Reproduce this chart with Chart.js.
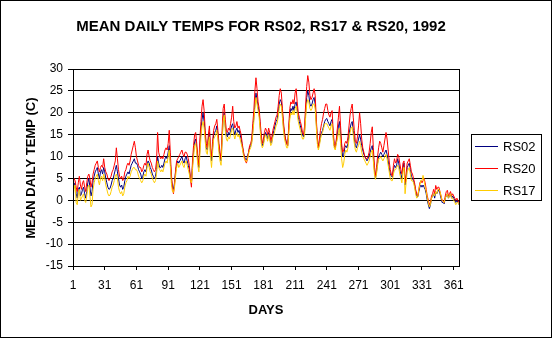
<!DOCTYPE html>
<html>
<head>
<meta charset="utf-8">
<title>Mean daily temps 1992</title>
<script src="https://cdn.jsdelivr.net/npm/chart.js@4.4.0/dist/chart.umd.min.js"></script>
<style>
  html, body { margin: 0; padding: 0; background: #fff; }
  #wrap { width: 552px; height: 338px; }
</style>
</head>
<body>
<div id="wrap"><canvas id="chart" width="552" height="338"></canvas></div>
<script>
const chartTitle = "MEAN DAILY TEMPS FOR RS02, RS17 & RS20, 1992";
const xTitle = "DAYS";
const yTitle = "MEAN DAILY TEMP (C)";
const dayTicks = [1, 31, 61, 91, 121, 151, 181, 211, 241, 271, 301, 331, 361];
const seriesNames = ["RS02", "RS20", "RS17"];

// daily means (day 1 .. 366)
const rs02 = [
  2.0, 3.5, 4.0, 1.5, 0.5, 2.5, 3.0, 1.0, 1.5, 2.5,
  3.0, 1.5, 0.5, 2.0, 4.0, 5.0, 3.0, 1.0, 2.0, 4.5,
  5.5, 6.5, 7.0, 7.5, 6.0, 5.0, 6.5, 7.0, 6.0, 7.5,
  6.5, 5.0, 4.0, 3.0, 2.5, 2.7, 3.5, 4.5, 5.0, 6.0,
  7.0, 8.0, 6.5, 5.0, 3.5, 3.0, 3.5, 2.5, 3.0, 4.5,
  5.5, 6.0, 6.5, 6.0, 7.0, 8.0, 8.5, 9.0, 9.5, 8.5,
  8.5, 8.0, 7.0, 6.5, 6.0, 5.0, 5.5, 6.5, 7.0, 6.5,
  8.0, 9.0, 8.5, 7.5, 7.0, 6.0, 5.5, 5.0, 5.5, 7.0,
  10.0, 8.5, 7.5, 7.5, 8.0, 7.5, 8.5, 9.5, 10.0, 9.5,
  11.0, 12.5, 9.0, 5.0, 3.0, 2.5, 4.0, 6.5, 8.0, 9.0,
  8.5, 9.0, 9.5, 10.0, 9.0, 8.5, 9.5, 10.0, 9.0, 8.0,
  7.0, 5.0, 4.0, 8.0, 11.0, 13.5, 14.0, 12.0, 9.0, 7.5,
  12.0, 16.0, 18.5, 20.0, 18.0, 15.0, 12.0, 11.5, 14.0, 15.5,
  11.0, 9.0, 12.0, 15.0, 15.5, 16.0, 17.0, 15.0, 12.0, 10.0,
  9.0, 14.0, 19.0, 20.0, 17.0, 15.0, 14.5, 15.5, 15.0, 16.0,
  17.0, 17.5, 16.0, 15.0, 16.0, 16.5, 15.5, 16.0, 15.0, 14.0,
  12.5, 11.0, 10.0, 9.5, 9.2, 10.0, 11.0, 12.0, 12.5, 13.5,
  16.0, 19.0, 22.0, 24.5, 23.0, 21.5, 20.0, 17.0, 14.0, 12.5,
  13.0, 14.5, 15.5, 15.0, 14.0, 15.5, 14.5, 13.0, 13.5, 15.0,
  16.0, 17.0, 18.0, 18.5, 20.0, 22.0, 23.0, 22.5, 20.0, 17.0,
  15.0, 14.0, 13.0, 12.5, 16.0, 19.5, 21.0, 20.5, 21.5, 20.5,
  22.0, 22.5, 21.0, 19.0, 18.0, 17.0, 16.0, 15.0, 14.5, 16.0,
  20.0, 23.5, 25.0, 24.0, 22.0, 21.5, 22.0, 23.0, 23.5, 22.0,
  18.0, 14.0, 12.0, 13.0, 14.5, 15.5, 16.0, 17.0, 18.0, 18.5,
  18.7, 18.0, 17.5, 17.0, 18.0, 18.5, 15.0, 12.5, 12.0, 13.5,
  15.0, 17.0, 18.0, 15.0, 12.0, 10.0, 10.5, 12.0, 12.5, 12.0,
  13.0, 15.0, 16.5, 17.5, 18.0, 16.0, 14.0, 12.5, 12.0, 13.0,
  14.0, 15.0, 14.0, 12.5, 11.5, 10.5, 10.0, 9.5, 9.0, 9.5,
  10.0, 11.0, 12.0, 12.5, 10.0, 7.0, 5.0, 6.5, 8.5, 10.0,
  10.5, 11.0, 10.5, 10.0, 10.5, 11.0, 11.5, 10.5, 9.0, 7.5,
  6.0, 5.5, 5.3, 7.0, 8.0, 7.5, 8.0, 9.5, 8.5, 7.0,
  6.0, 5.0, 7.5, 8.5, 3.5, 5.0, 7.5, 8.0, 8.5, 7.0,
  5.5, 5.0, 4.5, 3.5, 2.0, 1.0, 0.8, 2.0, 3.0, 3.5,
  3.0, 3.5, 3.0, 2.5, 1.5, 0.0, -1.0, -1.9, -1.0, 0.5,
  1.0, 1.5, 0.5, 2.0, 1.5, 2.0, 2.5, 1.5, 0.5, -0.5,
  -0.5, -0.8, 0.5, 1.0, 1.5, 0.5, 1.0, 1.5, 0.5, 1.0,
  0.5, 0.0, -0.5, 0.0, -0.5, -1.0
];

const rs20 = [
  3.0, 5.0, 4.5, 3.0, 2.0, 4.0, 5.5, 3.5, 2.5, 4.0,
  4.5, 3.0, 2.0, 4.0, 5.5, 6.0, 5.0, 3.0, 4.0, 6.0,
  7.0, 8.0, 8.5, 9.0, 7.5, 6.5, 7.5, 8.0, 7.5, 9.5,
  7.5, 6.5, 6.0, 5.0, 4.5, 5.0, 5.5, 6.5, 7.0, 8.0,
  9.0, 12.0, 9.5, 7.0, 5.5, 5.0, 5.5, 4.5, 5.0, 6.5,
  7.0, 8.0, 8.5, 8.0, 9.0, 10.5, 11.5, 12.5, 13.5, 12.0,
  10.0, 9.0, 8.0, 7.5, 7.5, 6.5, 7.0, 8.0, 8.5, 8.0,
  10.5, 11.5, 10.0, 9.0, 8.5, 7.5, 7.0, 6.5, 7.0, 9.0,
  15.5, 11.0, 10.0, 9.5, 10.0, 9.5, 10.5, 11.5, 12.0, 11.5,
  13.0, 16.0, 11.0, 6.0, 3.0, 1.5, 3.5, 7.0, 9.0, 9.5,
  10.0, 10.5, 11.0, 11.5, 10.5, 10.0, 11.0, 11.0, 10.5, 9.5,
  8.0, 5.0, 3.0, 9.0, 12.5, 15.0, 15.5, 13.0, 10.0, 8.0,
  14.0, 18.0, 21.5, 23.0, 20.5, 16.0, 13.0, 12.0, 15.0, 17.0,
  12.0, 10.0, 13.5, 16.0, 17.0, 17.5, 18.5, 16.0, 13.0, 11.0,
  9.5, 16.0, 21.0, 22.0, 18.5, 16.0, 15.5, 16.5, 16.0, 17.5,
  19.0, 21.5, 18.0, 16.5, 17.0, 18.0, 16.5, 17.0, 16.0, 15.0,
  13.0, 11.5, 10.0, 9.0, 8.5, 9.5, 11.0, 12.5, 13.0, 14.0,
  17.5, 20.5, 25.0, 28.0, 25.5, 22.5, 21.0, 18.0, 15.0, 13.0,
  14.0, 15.5, 16.5, 16.0, 15.0, 16.5, 15.5, 13.5, 14.5, 16.0,
  17.0, 18.0, 19.0, 19.5, 21.5, 24.0, 25.5, 24.5, 21.0, 18.0,
  15.5, 14.0, 13.0, 12.5, 17.0, 21.0, 22.5, 22.0, 23.0, 22.0,
  24.5, 25.5, 22.5, 20.0, 19.0, 18.0, 17.0, 15.5, 15.0, 17.0,
  22.0, 26.0, 28.5, 27.0, 24.0, 23.0, 23.5, 24.5, 25.5, 24.0,
  19.0, 14.5, 12.0, 14.0, 16.0, 17.5, 18.5, 20.0, 21.0, 22.0,
  22.0, 20.5, 19.5, 19.0, 20.0, 20.5, 16.0, 13.0, 12.0, 14.0,
  16.5, 19.0, 21.5, 17.0, 13.0, 11.0, 11.5, 13.0, 13.5, 13.0,
  14.5, 17.0, 19.5, 21.0, 22.0, 19.0, 16.0, 13.5, 13.0, 14.5,
  17.0, 20.0, 17.5, 14.0, 12.0, 11.0, 10.0, 9.5, 9.5, 10.0,
  11.0, 13.0, 15.5, 16.8, 12.0, 8.0, 5.5, 7.5, 10.0, 12.0,
  13.5, 13.0, 12.0, 11.0, 12.5, 14.0, 15.5, 14.0, 11.5, 9.0,
  7.0, 6.0, 5.5, 8.0, 9.5, 8.5, 9.0, 10.5, 10.0, 8.5,
  7.0, 6.0, 8.5, 9.0, 4.0, 6.0, 8.5, 9.0, 9.5, 8.0,
  6.5, 6.0, 5.0, 4.0, 2.5, 1.5, 1.0, 2.5, 4.0, 4.5,
  4.0, 4.5, 5.0, 4.0, 2.5, 1.0, 0.0, -1.0, -0.5, 1.0,
  1.5, 2.5, 1.5, 3.4, 2.5, 3.0, 3.0, 2.0, 1.0, 0.0,
  0.0, -0.5, 1.0, 2.0, 2.3, 1.0, 1.5, 2.0, 1.0, 1.5,
  1.0, 0.5, 0.0, 0.5, 0.0, -0.5
];

const rs17 = [
  0.5, 2.5, 3.5, -0.5, -1.0, 1.5, 2.5, 0.0, 0.5, 1.0,
  1.5, 0.0, -0.5, 1.0, 3.0, 3.5, 1.0, -1.5, -1.0, 2.5,
  4.0, 5.0, 5.5, 6.0, 4.5, 3.5, 5.0, 5.5, 4.5, 6.0,
  5.0, 3.5, 2.5, 1.5, 1.0, 1.2, 2.0, 3.0, 3.5, 4.5,
  5.5, 6.0, 5.0, 3.0, 2.0, 1.5, 2.0, 1.0, 1.5, 3.0,
  4.0, 4.5, 5.5, 5.0, 5.5, 6.5, 7.0, 7.5, 7.5, 7.0,
  7.0, 6.5, 5.5, 5.0, 4.5, 4.0, 4.5, 5.5, 6.0, 5.5,
  7.5, 8.5, 7.5, 6.5, 6.0, 5.0, 4.5, 4.0, 4.5, 6.0,
  9.0, 7.5, 7.0, 6.5, 7.0, 6.5, 7.5, 8.5, 9.0, 8.5,
  10.0, 11.5, 8.0, 4.0, 2.0, 1.8, 3.0, 5.5, 7.5, 8.5,
  7.5, 8.0, 8.5, 9.0, 8.0, 7.5, 8.5, 9.0, 8.0, 7.0,
  6.0, 4.5, 4.0, 7.0, 10.0, 12.5, 13.0, 11.0, 8.0, 6.5,
  10.5, 14.5, 17.0, 18.0, 16.5, 13.5, 11.0, 10.5, 13.0, 14.5,
  10.0, 7.5, 11.0, 14.0, 14.5, 15.0, 16.0, 14.0, 11.0, 9.0,
  8.0, 13.0, 18.0, 19.5, 16.0, 14.0, 13.5, 14.5, 14.0, 15.0,
  16.0, 16.5, 15.0, 14.0, 15.0, 15.5, 14.5, 15.0, 14.0, 13.0,
  12.0, 10.5, 9.5, 9.0, 8.8, 9.5, 10.5, 11.5, 12.0, 13.0,
  15.0, 18.0, 21.0, 23.5, 22.0, 20.5, 19.0, 16.0, 13.0, 12.0,
  12.5, 14.0, 15.0, 14.5, 13.5, 15.0, 14.0, 12.5, 13.0, 14.5,
  15.0, 16.0, 17.0, 17.5, 19.0, 21.0, 22.0, 21.5, 19.0, 16.0,
  14.0, 13.0, 12.0, 12.0, 15.0, 18.5, 20.0, 19.5, 20.5, 19.5,
  21.0, 21.5, 20.0, 18.0, 17.0, 16.0, 15.0, 14.0, 14.0, 15.0,
  19.0, 22.0, 23.0, 22.5, 21.0, 20.5, 21.0, 22.0, 22.0, 21.0,
  17.0, 13.0, 11.5, 12.5, 14.0, 15.0, 15.5, 16.5, 17.5, 17.5,
  17.5, 17.0, 16.5, 16.0, 17.0, 17.5, 14.0, 12.0, 11.5, 13.0,
  14.0, 15.5, 16.5, 13.0, 9.5, 7.5, 8.5, 10.5, 11.5, 11.0,
  12.0, 14.0, 15.5, 16.5, 16.8, 15.0, 13.0, 11.5, 11.0, 12.0,
  12.5, 13.5, 12.5, 11.0, 10.0, 9.5, 9.0, 8.5, 8.0, 8.5,
  9.0, 10.0, 11.0, 11.5, 9.0, 6.0, 4.8, 6.0, 8.0, 9.5,
  9.5, 10.0, 9.5, 9.0, 9.5, 10.0, 10.5, 9.5, 8.0, 6.5,
  5.0, 4.5, 4.5, 6.0, 7.0, 7.0, 7.5, 8.0, 7.5, 6.0,
  5.0, 4.0, 6.5, 7.5, 1.5, 4.0, 6.5, 7.0, 7.5, 6.0,
  4.5, 4.5, 4.0, 3.0, 1.5, 0.5, 0.8, 2.5, 3.5, 4.5,
  4.5, 5.7, 4.5, 3.0, 2.0, 0.5, -0.5, -1.5, -1.0, 0.5,
  1.0, 1.5, 1.0, 2.0, 1.5, 2.5, 2.5, 2.0, 1.0, 0.0,
  -0.3, -0.5, 0.5, 1.0, 1.5, 0.5, 1.0, 1.5, 0.5, 0.5,
  0.0, -0.5, -1.0, -0.5, -0.5, -1.0
];

const days = rs02.map((v, i) => i + 1);

const colors = ["#000080", "#ff0000", "#ffcc00"];

// titles, outer border, plot frame and legend box drawn by hand
const decor = {
  id: "decor",
  afterDraw(c) {
    const ctx = c.ctx;
    const a = c.chartArea;
    ctx.save();
    ctx.strokeStyle = "#000";
    ctx.lineWidth = 1;
    ctx.strokeRect(0.5, 0.5, 551, 337);
    ctx.strokeRect(Math.round(a.left) + 0.5, Math.round(a.top) + 0.5,
      Math.round(a.right - a.left), Math.round(a.bottom - a.top));

    ctx.fillStyle = "#000";
    ctx.textAlign = "center";
    ctx.textBaseline = "middle";
    ctx.font = "bold 15px Arial, 'Liberation Sans', sans-serif";
    ctx.fillText(chartTitle, 261, 27);

    ctx.font = "bold 13px Arial, 'Liberation Sans', sans-serif";
    ctx.fillText(xTitle, 266, 310);
    ctx.save();
    ctx.translate(31, 168);
    ctx.rotate(-Math.PI / 2);
    ctx.fillText(yTitle, 0, 0);
    ctx.restore();

    // legend
    ctx.strokeRect(471.5, 134.5, 70, 66);
    ctx.font = "13px Arial, 'Liberation Sans', sans-serif";
    ctx.textAlign = "left";
    seriesNames.forEach((name, i) => {
      const y = 146 + i * 22;
      ctx.strokeStyle = colors[i];
      ctx.lineWidth = 1;
      ctx.beginPath();
      ctx.moveTo(475, y + 0.5);
      ctx.lineTo(498, y + 0.5);
      ctx.stroke();
      ctx.fillStyle = "#000";
      ctx.fillText(name, 503, y + 1);
    });
    ctx.restore();
  }
};

const seriesData = [rs02, rs20, rs17];

new Chart(document.getElementById("chart"), {
  type: "line",
  data: {
    labels: days,
    datasets: seriesNames.map((name, i) => ({
      label: name,
      data: seriesData[i],
      borderColor: colors[i],
      borderWidth: 1,
      pointRadius: 0,
      tension: 0,
      order: 3 - i
    }))
  },
  options: {
    responsive: false,
    animation: false,
    events: [],
    layout: { padding: { top: 69, right: 93, left: 0, bottom: 0 } },
    plugins: { legend: { display: false }, tooltip: { enabled: false } },
    scales: {
      x: {
        type: "linear",
        min: 1,
        max: 366,
        afterFit: s => { s.height = 72; },
        afterBuildTicks: s => { s.ticks = dayTicks.map(v => ({ value: v })); },
        grid: { drawOnChartArea: false, drawTicks: true, tickLength: 4, color: "#000" },
        border: { color: "#000" },
        ticks: {
          autoSkip: false,
          maxRotation: 0,
          padding: 8,
          color: "#000",
          font: { family: "Arial, 'Liberation Sans', sans-serif", size: 12 },
          callback: v => String(v)
        }
      },
      y: {
        min: -15,
        max: 30,
        afterFit: s => { s.width = 73; },
        grid: { color: "#000", tickLength: 5 },
        border: { color: "#000" },
        ticks: {
          stepSize: 5,
          padding: 5,
          color: "#000",
          font: { family: "Arial, 'Liberation Sans', sans-serif", size: 12 }
        }
      }
    }
  },
  plugins: [decor]
});
</script>
</body>
</html>
